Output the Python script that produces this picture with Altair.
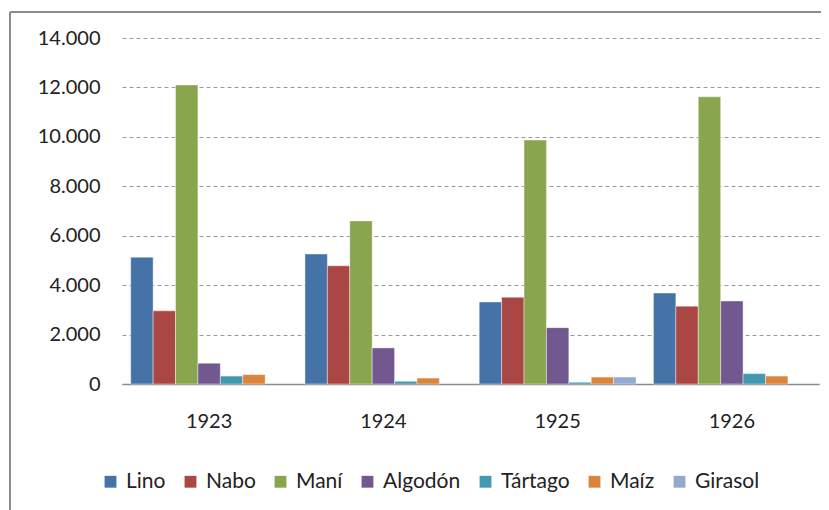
import altair as alt
import pandas as pd

years = ["1923", "1924", "1925", "1926"]
series = ["Lino", "Nabo", "Maní", "Algodón", "Tártago", "Maíz", "Girasol"]
colors = ["#4572A7", "#AA4643", "#89A54E", "#71588F", "#4198AF", "#DB843D", "#93A9CF"]

lino = [5130, 5260, 3320, 3680]
nabo = [2960, 4780, 3510, 3150]
mani = [12100, 6600, 9870, 11620]
algodon = [840, 1460, 2280, 3360]
tartago = [320, 110, 70, 420]
maiz = [380, 240, 280, 320]
girasol = [None, None, 280, None]

values = [lino, nabo, mani, algodon, tartago, maiz, girasol]
rows = []
for s, vals in zip(series, values):
    for y, v in zip(years, vals):
        if v is not None:
            rows.append({"Año": y, "Cultivo": s, "Valor": v})
df = pd.DataFrame(rows)

FONT = "Lato"

bars = alt.Chart(df).mark_bar(stroke="#ffffff", strokeWidth=0.6, strokeOpacity=0.7).encode(
    x=alt.X("Año:N", sort=years, title=None,
            scale=alt.Scale(paddingInner=0.1, paddingOuter=0.05),
            axis=alt.Axis(labelAngle=0, ticks=False, tickSize=0, labelPadding=27,
                          domainColor="#8c8c8c", domainWidth=1.5, grid=False)),
    xOffset=alt.XOffset("Cultivo:N", sort=series, scale=alt.Scale(domain=series, paddingInner=0, paddingOuter=0)),
    y=alt.Y("Valor:Q", title=None,
            scale=alt.Scale(domain=[0, 14000], nice=False),
            axis=alt.Axis(values=list(range(0, 14001, 2000)), ticks=False, tickSize=0,
                          labelPadding=22, domain=False,
                          labelExpr="replace(format(datum.value, ','), ',', '.')",
                          grid=True, gridColor="#9a9a9a", gridDash=[4, 3], gridWidth=1)),
    color=alt.Color("Cultivo:N", sort=series,
                    scale=alt.Scale(domain=series, range=colors),
                    legend=alt.Legend(title=None, orient="none", direction="horizontal",
                                      legendX=-22, legendY=433, symbolType="square",
                                      symbolSize=140, symbolStrokeWidth=0, labelOffset=5,
                                      columnPadding=14, labelFontSize=21, labelFont=FONT,
                                      labelColor="#222222", columns=7)),
)

frame_top = alt.Chart(pd.DataFrame({"a": [0]})).mark_rule(color="#8c8c8c", strokeWidth=2).encode(
    x=alt.value(-112), x2=alt.value(720), y=alt.value(-26)
)
frame_left = alt.Chart(pd.DataFrame({"a": [0]})).mark_rule(color="#8c8c8c", strokeWidth=2).encode(
    x=alt.value(-112), y=alt.value(-26), y2=alt.value(520)
)

chart = alt.layer(bars, frame_top, frame_left).properties(
    width=697, height=346,
    autosize=alt.AutoSizeParams(type="none"),
    padding={"left": 114, "top": 30, "right": 2, "bottom": 126},
    background="white",
).configure_view(stroke=None).configure_axis(
    labelFont=FONT, labelFontSize=20, labelColor="#222222"
)

chart.save("out.html", embed_options={"renderer": "svg", "actions": False})
